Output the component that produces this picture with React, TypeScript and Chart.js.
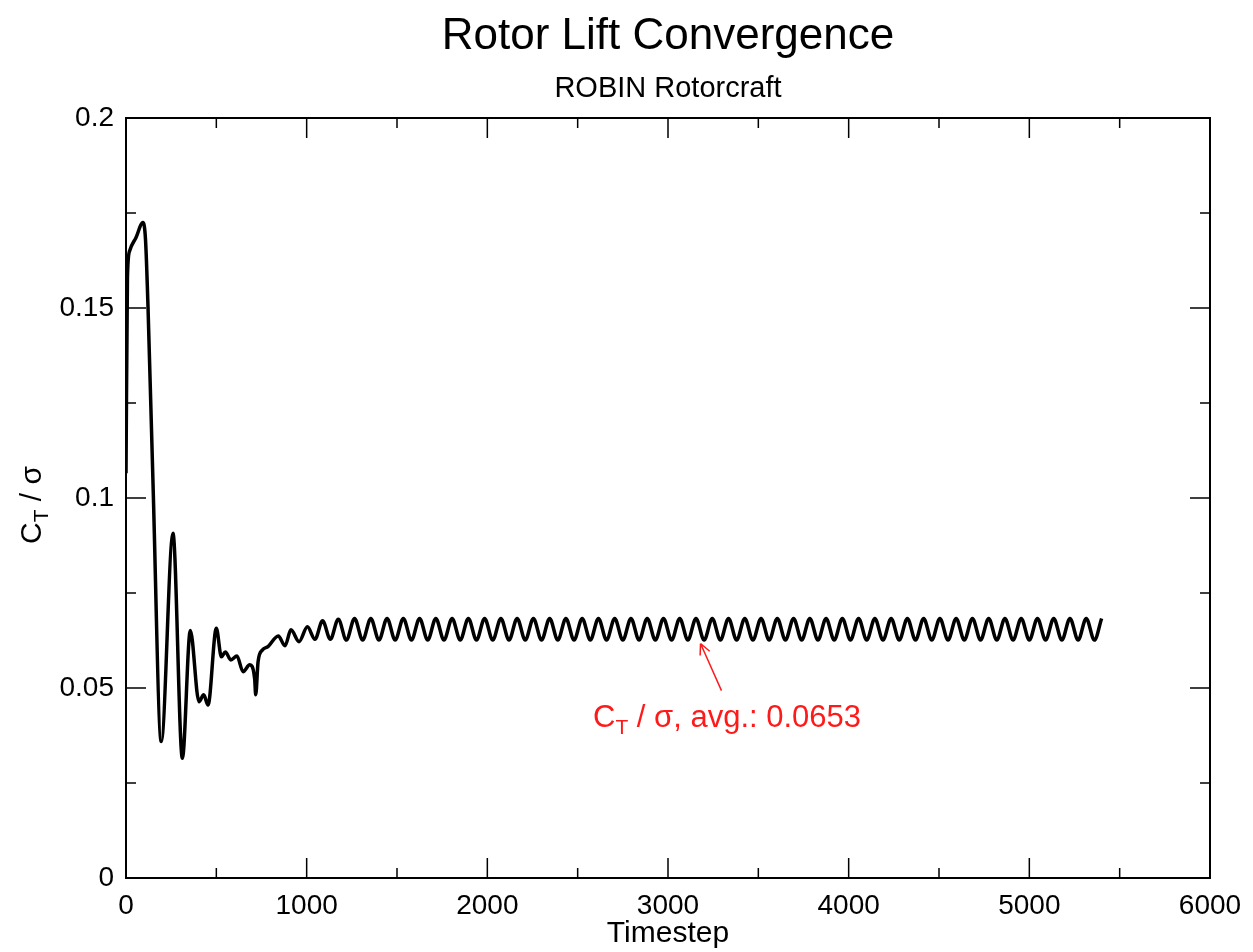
import React, { useEffect, useRef } from 'react';
import { Chart, registerables } from 'chart.js';

Chart.register(...registerables);

const FONT = '"Liberation Sans", Arial, Helvetica, sans-serif';

const titleText = 'Rotor Lift Convergence';
const subtitleText = 'ROBIN Rotorcraft';
const xAxisTitle = 'Timestep';
const yAxisMain = 'C';
const yAxisSub = 'T';
const yAxisRest = ' / σ';
const xTickLabels = ['0', '1000', '2000', '3000', '4000', '5000', '6000'];
const yTickLabels = ['0', '0.05', '0.1', '0.15', '0.2'];

// Timestep values of the convergence history
const timesteps = [
  0, 8, 20, 55, 94, 108, 122, 149, 195, 260, 312, 356, 404, 430, 454, 500,
  528, 550, 580, 614, 648, 685, 712, 718, 731, 755, 786, 843, 880, 913, 958,
  1004, 1046, 1088, 1131,
  1175, 1220, 1265, 1310, 1355, 1400, 1445, 1490, 1535, 1580, 1625, 1670,
  1715, 1760, 1805, 1850, 1895, 1940, 1985, 2030, 2075, 2120, 2165, 2210,
  2255, 2300, 2345, 2390, 2435, 2480, 2525, 2570, 2615, 2660, 2705, 2750,
  2795, 2840, 2885, 2930, 2975, 3020, 3065, 3110, 3155, 3200, 3245, 3290,
  3335, 3380, 3425, 3470, 3515, 3560, 3605, 3650, 3695, 3740, 3785, 3830,
  3875, 3920, 3965, 4010, 4055, 4100, 4145, 4190, 4235, 4280, 4325, 4370,
  4415, 4460, 4505, 4550, 4595, 4640, 4685, 4730, 4775, 4820, 4865, 4910,
  4955, 5000, 5045, 5090, 5135, 5180, 5225, 5270, 5315, 5360, 5400,
];

// C_T / sigma at each timestep
const ctSigma = [
  0.1065, 0.158, 0.165, 0.1685, 0.1725, 0.168, 0.150, 0.1047, 0.0359, 0.0907,
  0.0315, 0.0651, 0.0464, 0.0482, 0.0455, 0.0657, 0.0582, 0.0595, 0.0574,
  0.0584, 0.0543, 0.0561, 0.0525, 0.0482, 0.0569, 0.0600, 0.0609, 0.0637,
  0.0611, 0.0653, 0.0622, 0.0661, 0.0628, 0.0677, 0.0628,
  0.0681, 0.0626, 0.0683, 0.0626, 0.0683, 0.0626, 0.0683, 0.0626, 0.0683,
  0.0626, 0.0683, 0.0626, 0.0683, 0.0626, 0.0683, 0.0626, 0.0683, 0.0626,
  0.0683, 0.0626, 0.0683, 0.0626, 0.0683, 0.0626, 0.0683, 0.0626, 0.0683,
  0.0626, 0.0683, 0.0626, 0.0683, 0.0626, 0.0683, 0.0626, 0.0683, 0.0626,
  0.0683, 0.0626, 0.0683, 0.0626, 0.0683, 0.0626, 0.0683, 0.0626, 0.0683,
  0.0626, 0.0683, 0.0626, 0.0683, 0.0626, 0.0683, 0.0626, 0.0683, 0.0626,
  0.0683, 0.0626, 0.0683, 0.0626, 0.0683, 0.0626, 0.0683, 0.0626, 0.0683,
  0.0626, 0.0683, 0.0626, 0.0683, 0.0626, 0.0683, 0.0626, 0.0683, 0.0626,
  0.0683, 0.0626, 0.0683, 0.0626, 0.0683, 0.0626, 0.0683, 0.0626, 0.0683,
  0.0626, 0.0683, 0.0626, 0.0683, 0.0626, 0.0683, 0.0626, 0.0683, 0.0626,
  0.0683, 0.0626, 0.0683, 0.0626, 0.0683, 0.0626, 0.0680,
];

// Annotation (data coordinates)
const annotationTip = [3180, 0.0617];
const annotationTail = [3296, 0.0493];
const annotationTextAt = [2585, 0.0397];
const annotationMain = 'C';
const annotationSub = 'T';
const annotationRest = ' / σ, avg.: 0.0653';

const framePlugin = {
  id: 'frameTicks',
  afterDatasetsDraw(chart: any) {
    const { ctx, chartArea } = chart;
    const { left, right, top, bottom } = chartArea;
    const xs = chart.scales.x;
    const ys = chart.scales.y;
    const major = 20;
    const minor = 10;
    ctx.save();
    ctx.strokeStyle = '#000';
    ctx.lineWidth = 1.5;
    ctx.beginPath();
    const xv = xs.ticks.map((t: any) => t.value);
    for (let i = 0; i < xv.length; i++) {
      const px = xs.getPixelForValue(xv[i]);
      if (i > 0 && i < xv.length - 1) {
        ctx.moveTo(px, bottom); ctx.lineTo(px, bottom - major);
        ctx.moveTo(px, top); ctx.lineTo(px, top + major);
      }
      if (i < xv.length - 1) {
        const pm = xs.getPixelForValue((xv[i] + xv[i + 1]) / 2);
        ctx.moveTo(pm, bottom); ctx.lineTo(pm, bottom - minor);
        ctx.moveTo(pm, top); ctx.lineTo(pm, top + minor);
      }
    }
    const yv = ys.ticks.map((t: any) => t.value);
    for (let i = 0; i < yv.length; i++) {
      const py = ys.getPixelForValue(yv[i]);
      if (i > 0 && i < yv.length - 1) {
        ctx.moveTo(left, py); ctx.lineTo(left + major, py);
        ctx.moveTo(right, py); ctx.lineTo(right - major, py);
      }
      if (i < yv.length - 1) {
        const pm = ys.getPixelForValue((yv[i] + yv[i + 1]) / 2);
        ctx.moveTo(left, pm); ctx.lineTo(left + minor, pm);
        ctx.moveTo(right, pm); ctx.lineTo(right - minor, pm);
      }
    }
    ctx.stroke();
    ctx.lineWidth = 2;
    ctx.strokeRect(left, top, right - left, bottom - top);
    ctx.restore();
  },
};

const labelsPlugin = {
  id: 'customLabels',
  afterDraw(chart: any) {
    const { ctx } = chart;
    const xs = chart.scales.x;
    const ys = chart.scales.y;
    ctx.save();
    // Y axis title with subscript
    const mainFont = `30px ${FONT}`;
    const subFont = `21px ${FONT}`;
    ctx.font = mainFont;
    const wMain = ctx.measureText(yAxisMain).width;
    const wRest = ctx.measureText(yAxisRest).width;
    ctx.font = subFont;
    const wSub = ctx.measureText(yAxisSub).width;
    const total = wMain + wSub + wRest;
    const cy = (chart.chartArea.top + chart.chartArea.bottom) / 2 + 7;
    ctx.translate(41, cy);
    ctx.rotate(-Math.PI / 2);
    ctx.fillStyle = '#000';
    ctx.textBaseline = 'alphabetic';
    ctx.textAlign = 'left';
    let x = -total / 2;
    ctx.font = mainFont;
    ctx.fillText(yAxisMain, x, 0);
    x += wMain;
    ctx.font = subFont;
    ctx.fillText(yAxisSub, x, 7);
    x += wSub;
    ctx.font = mainFont;
    ctx.fillText(yAxisRest, x, 0);
    ctx.restore();

    // Annotation
    ctx.save();
    const red = '#ff1a1a';
    ctx.strokeStyle = red;
    ctx.fillStyle = red;
    ctx.lineWidth = 1.5;
    const tx = xs.getPixelForValue(annotationTip[0]);
    const ty = ys.getPixelForValue(annotationTip[1]);
    const bx = xs.getPixelForValue(annotationTail[0]);
    const by = ys.getPixelForValue(annotationTail[1]);
    const ang = Math.atan2(ty - by, tx - bx);
    const head = 12;
    const spread = 0.45;
    ctx.beginPath();
    ctx.moveTo(bx, by);
    ctx.lineTo(tx, ty);
    ctx.moveTo(tx, ty);
    ctx.lineTo(tx - head * Math.cos(ang - spread), ty - head * Math.sin(ang - spread));
    ctx.moveTo(tx, ty);
    ctx.lineTo(tx - head * Math.cos(ang + spread), ty - head * Math.sin(ang + spread));
    ctx.stroke();
    const ax = xs.getPixelForValue(annotationTextAt[0]);
    const ay = ys.getPixelForValue(annotationTextAt[1]);
    const aMain = `31px ${FONT}`;
    const aSub = `21px ${FONT}`;
    ctx.textBaseline = 'alphabetic';
    ctx.textAlign = 'left';
    let px = ax;
    ctx.font = aMain;
    ctx.fillText(annotationMain, px, ay);
    px += ctx.measureText(annotationMain).width;
    ctx.font = aSub;
    ctx.fillText(annotationSub, px, ay + 7);
    px += ctx.measureText(annotationSub).width;
    ctx.font = aMain;
    ctx.fillText(annotationRest, px, ay);
    ctx.restore();
  },
};

export default function App() {
  const canvasRef = useRef<HTMLCanvasElement | null>(null);

  useEffect(() => {
    const canvas = canvasRef.current;
    if (!canvas) return;
    Chart.defaults.font.family = FONT;
    const points = timesteps.map((t, i) => ({ x: t, y: ctSigma[i] }));
    const chart = new Chart(canvas, {
      type: 'line',
      data: {
        datasets: [
          {
            data: points,
            borderColor: '#000',
            borderWidth: 3.5,
            pointRadius: 0,
            fill: false,
            cubicInterpolationMode: 'monotone',
          } as any,
        ],
      },
      options: {
        animation: false,
        responsive: false,
        maintainAspectRatio: false,
        layout: { padding: { left: 0, right: 43, top: 0, bottom: 0 } },
        plugins: {
          legend: { display: false },
          tooltip: { enabled: false },
          title: {
            display: true,
            fullSize: false,
            text: titleText,
            color: '#000',
            font: { family: FONT, size: 44, weight: 'normal' },
            padding: { top: 10, bottom: 9 },
          },
          subtitle: {
            display: true,
            fullSize: false,
            text: subtitleText,
            color: '#000',
            font: { family: FONT, size: 29, weight: 'normal' },
            padding: { top: 0, bottom: 11.4 },
          },
        },
        scales: {
          x: {
            type: 'linear',
            min: 0,
            max: 6000,
            grid: { display: false, drawTicks: false },
            border: { display: false },
            ticks: {
              stepSize: 1000,
              color: '#000',
              font: { family: FONT, size: 28 },
              padding: 11,
              maxRotation: 0,
              autoSkip: false,
              callback: (v: any, i: number) => xTickLabels[i] ?? String(v),
            },
            title: {
              display: true,
              text: xAxisTitle,
              color: '#000',
              font: { family: FONT, size: 30 },
              padding: { top: 0, bottom: 0 },
            },
            afterFit: (s: any) => {
              s.height = 74;
            },
          },
          y: {
            type: 'linear',
            min: 0,
            max: 0.2,
            grid: { display: false, drawTicks: false },
            border: { display: false },
            ticks: {
              stepSize: 0.05,
              color: '#000',
              font: { family: FONT, size: 28 },
              padding: 12,
              callback: (v: any, i: number) => yTickLabels[i] ?? String(v),
            },
            afterFit: (s: any) => {
              s.width = 126;
            },
          },
        },
      } as any,
      plugins: [framePlugin, labelsPlugin],
    });
    return () => chart.destroy();
  }, []);

  return (
    <div style={{ position: 'absolute', left: 0, top: 0, width: 1253, height: 952, background: '#fff' }}>
      <canvas ref={canvasRef} width={1253} height={952} style={{ display: 'block' }} />
    </div>
  );
}
